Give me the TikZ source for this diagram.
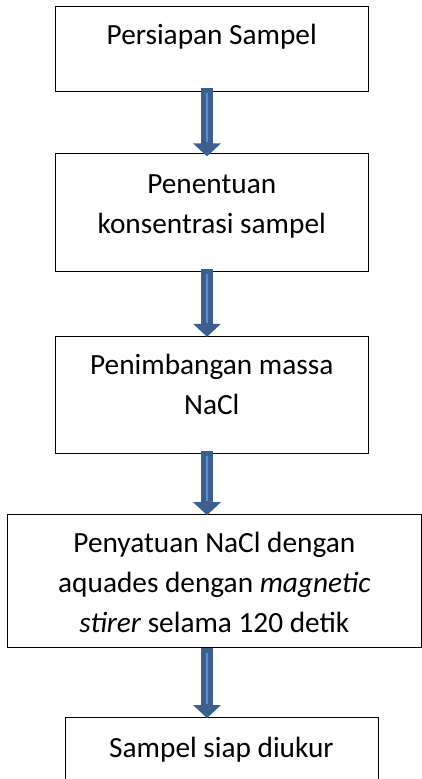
\documentclass[tikz,border=0pt]{standalone}
\usepackage{fontspec}
\setmainfont{Carlito}
\usetikzlibrary{arrows.meta, positioning}
\definecolor{arrowblue}{RGB}{59,95,142}
\definecolor{shineblue}{RGB}{96,142,200}

\begin{document}
\begin{tikzpicture}[
        node distance=62pt,
        box/.style={rectangle, draw, line width=0.9pt, align=center, minimum width=312.5pt, inner xsep=0pt, inner ysep=0pt, font=\fontsize{29.3}{40}\selectfont},
        flow/.style={line width=12.5pt, draw=arrowblue, -{Triangle[width=27pt, length=13pt]}},
        shine/.style={line width=2.5pt, draw=shineblue, shorten <=5pt, shorten >=14pt}
    ]
        \useasboundingbox (0,0) rectangle (422pt,-779pt);

        % Kotak-kotak proses
        \node (persiapan) [box, anchor=north, text height=39pt, text depth=46pt] at (211.75pt,-5.5pt) {Persiapan Sampel};
        \node (penentuan) [box, below=62pt of persiapan, text height=79.5pt, text depth=38pt] {Penentuan\\konsentrasi sampel};
        \node (penimbangan) [box, below=64pt of penentuan, text height=78.5pt, text depth=39pt] {Penimbangan massa\\NaCl};
        \node (penyatuan) [box, below=60pt of penimbangan, xshift=2.6pt, minimum width=414.7pt, text height=118pt, text depth=15pt] {Penyatuan NaCl dengan\\aquades dengan \textit{magnetic}\\\textit{stirer} selama 120 detik};
        \node (siap) [box, below=69pt of penyatuan, xshift=7.15pt, minimum width=313pt, text height=40pt, text depth=50pt] {Sampel siap diukur};

        % Panah-panah
        \coordinate (a1) at ([xshift=-4.75pt, yshift=3pt]persiapan.south);
        \coordinate (b1) at ([yshift=-3pt]a1 |- penentuan.north);
        \coordinate (a2) at ([xshift=-4.75pt, yshift=3pt]penentuan.south);
        \coordinate (b2) at ([yshift=-1pt]a2 |- penimbangan.north);
        \coordinate (a3) at ([xshift=-4.75pt, yshift=3pt]penimbangan.south);
        \coordinate (b3) at ([yshift=-1pt]a3 |- penyatuan.north);
        \coordinate (a4) at ([xshift=-7.35pt, yshift=0pt]penyatuan.south);
        \coordinate (b4) at ([yshift=-1pt]a4 |- siap.north);

        \foreach \s/\e in {a1/b1, a2/b2, a3/b3, a4/b4} {
            \draw [flow] (\s) -- (\e);
            \draw [shine] (\s) -- (\e);
        }
    \end{tikzpicture}
\end{document}
